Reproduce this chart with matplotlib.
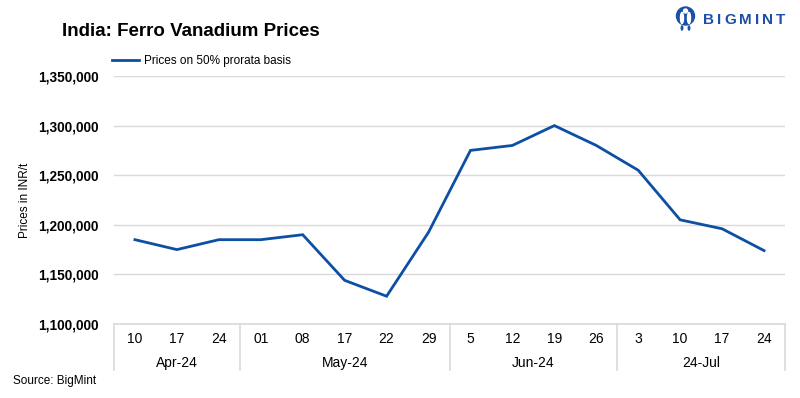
import matplotlib
matplotlib.use("Agg")
import matplotlib.pyplot as plt
from matplotlib.patches import Circle, Ellipse
import matplotlib.transforms as mtransforms

plt.rcParams['font.family'] = ['Liberation Sans', 'DejaVu Sans']

days = ["10", "17", "24", "01", "08", "17", "22", "29", "5", "12", "19", "26", "3", "10", "17", "24"]
prices = [1185000, 1175000, 1185000, 1185000, 1190000, 1144000, 1128000, 1192500,
          1275000, 1280000, 1300000, 1280000, 1255000, 1205000, 1196000, 1174000]
months = ["Apr-24", "May-24", "Jun-24", "24-Jul"]
month_counts = [3, 5, 4, 4]
series_name = "Prices on 50% prorata basis"
yticks = [1100000, 1150000, 1200000, 1250000, 1300000, 1350000]
brand = "BIGMINT"

W, H = 800, 398
fig = plt.figure(figsize=(8, 3.98), dpi=100)
ax = fig.add_axes([114 / W, (H - 324) / H, (785 - 114) / W, (324 - 76) / H])

line_color = "#0D4FA3"
grid_color = "#D9D9D9"

x = list(range(len(prices)))
ax.plot(x, prices, color=line_color, lw=2.0, label=series_name, solid_joinstyle="miter")
ax.set_xlim(-0.5, len(prices) - 0.5)
ax.set_ylim(yticks[0], yticks[-1])
ax.set_yticks(yticks)
ax.set_yticklabels([f"{v:,}" for v in yticks], fontsize=9.8, fontweight="bold")
ax.yaxis.grid(True, color=grid_color, lw=1)
ax.set_axisbelow(True)
for s in ["top", "right", "left"]:
    ax.spines[s].set_visible(False)
ax.spines["bottom"].set_color(grid_color)
ax.spines["bottom"].set_linewidth(1.2)
ax.tick_params(axis="y", length=0, pad=11)
ax.set_xticks(x)
ax.set_xticklabels(days, fontsize=10)
ax.tick_params(axis="x", length=0, pad=6)
ax.set_ylabel("Prices in INR/t", fontsize=8.5)
ax.yaxis.set_label_coords(-0.123, 0.5)

trans = mtransforms.blended_transform_factory(ax.transData, ax.transAxes)
start = -0.5
sep_len = 46 / 248
ax.plot([start, start], [0, -sep_len], transform=trans, color=grid_color, lw=1.2, clip_on=False)
for m, c in zip(months, month_counts):
    end = start + c
    ax.plot([end, end], [0, -sep_len], transform=trans, color=grid_color, lw=1.2, clip_on=False)
    ax.text((start + end) / 2, -39 / 248, m, transform=trans, ha="center", va="center", fontsize=10)
    start = end

leg = ax.legend(loc="upper left", bbox_to_anchor=(107 / W, (H - 50) / H), bbox_transform=fig.transFigure,
                frameon=False, fontsize=8.5, handlelength=2.3, handletextpad=0.4, borderaxespad=0)

fig.text(62 / W, (H - 32) / H, "India: Ferro Vanadium Prices", fontsize=13.5, fontweight="bold",
         ha="left", va="center")
fig.text(13 / W, (H - 381) / H, "Source: BigMint", fontsize=8.5, ha="left", va="center")

# Logo
logo_color = "#1B4FA8"
renderer = fig.canvas.get_renderer()
xpos = 703
for ch in brand:
    t = fig.text(xpos / W, (H - 20.5) / H, ch, fontsize=11, fontweight="bold",
                 color=logo_color, ha="left", va="center")
    bb = t.get_window_extent(renderer=renderer)
    xpos = bb.x1 + 3
lax = fig.add_axes([675 / W, (H - 32) / H, 21 / W, 26 / H])
lax.set_xlim(0, 21)
lax.set_ylim(0, 26)
lax.axis("off")
lax.add_patch(Circle((10.5, 16), 9, color=logo_color))
lax.add_patch(Ellipse((7, 14), 3, 11, color="white"))
lax.add_patch(Ellipse((14, 14), 3, 11, color="white"))
lax.add_patch(Circle((10.5, 21), 2.0, color="white"))
lax.add_patch(Ellipse((7, 4), 1.5, 4, color=logo_color))
lax.add_patch(Ellipse((14, 4), 1.5, 4, color=logo_color))

fig.savefig("out.png", dpi=100, facecolor="white")
